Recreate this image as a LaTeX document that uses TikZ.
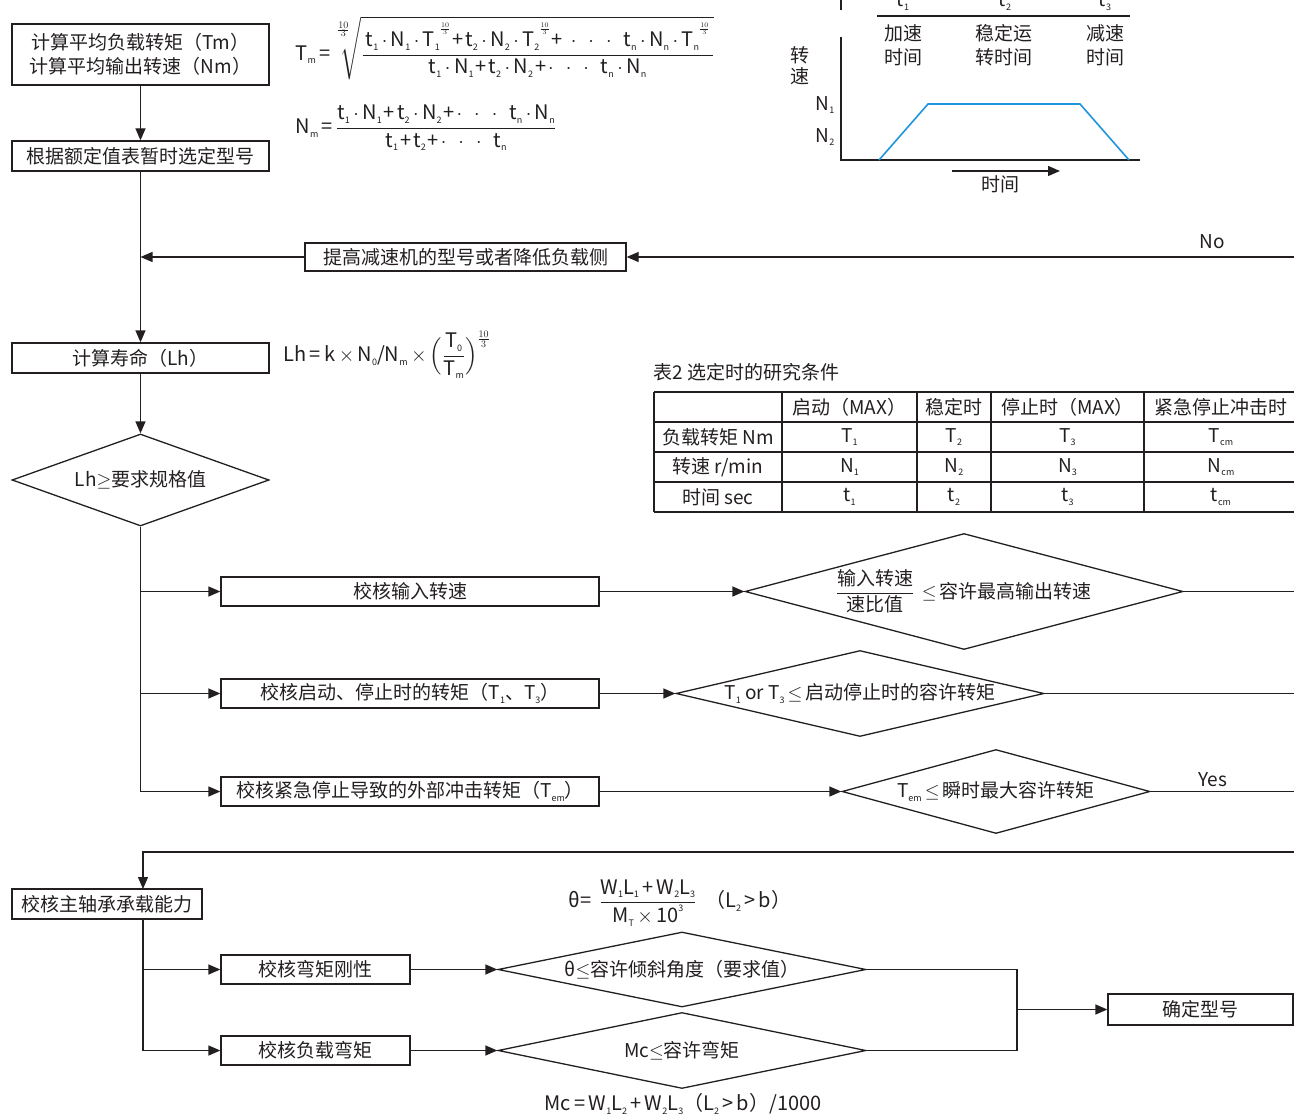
\RequirePackage{fix-cm}
\documentclass[tikz,border=0pt]{standalone}
\usepackage{amsmath}
\usepackage{fontspec}
\setmainfont{Noto Sans CJK SC}
\usetikzlibrary{arrows.meta,shapes.geometric}
\definecolor{ink}{RGB}{35,31,32}
\definecolor{curve}{RGB}{30,150,220}
\newcommand{\sbx}[1]{\raisebox{-0.35ex}{\fontsize{9}{9}\selectfont #1}}
\newcommand{\tenth}{\raisebox{1.4ex}{\fontsize{10}{10}\selectfont$\frac{10}{3}$}}
\newcommand{\cd}{\hspace{3.5pt}$\cdot$\hspace{3.5pt}}
\newcommand{\pl}{\hspace{2pt}+\hspace{2pt}}
\newcommand{\dts}{$\cdot$\hspace{12pt}$\cdot$\hspace{12pt}$\cdot$\hspace{12pt}}
\newcommand{\lesym}{\,$\leq$\,}
\newcommand{\gesym}{\,$\geq$\,}
\newcommand{\timesym}{\,$\times$\,}
\begin{document}
\begin{tikzpicture}[x=1pt,y=-1pt,
  font=\fontsize{19}{24}\selectfont, color=ink, draw=ink, line width=1.3pt,
  box/.style={draw, inner sep=0pt, align=center},
  dia/.style={draw, diamond, inner sep=0pt, aspect=1},
  lbl/.style={inner sep=1pt, align=center},
  fml/.style={inner sep=1pt, align=center, font=\fontsize{20}{24}\selectfont},
  arr/.style={-{Triangle[length=12pt,width=10pt]}},
  cell/.style={inner sep=0pt}]
\useasboundingbox (0,0) rectangle (1294,1118);
\clip (0,0) rectangle (1294,1118);

% ---------- left column ----------
\node[box, minimum width=257pt, minimum height=61pt] (b1) at (140.5,54.5) {计算平均负载转矩（Tm）\\计算平均输出转速（Nm）};
\node[box, minimum width=257pt, minimum height=30pt] (b2) at (140.5,156) {根据额定值表暂时选定型号};
\node[box, minimum width=321pt, minimum height=28pt] (raise) at (465.5,257) {提高减速机的型号或者降低负载侧};
\node[box, minimum width=257pt, minimum height=30pt] (b3) at (140.5,358) {计算寿命（Lh）};
\node[dia, minimum width=257pt, minimum height=92pt] (dLh) at (140.5,480) {};
\node[lbl] (tLh) at (dLh.center) {Lh$\geq$要求规格值};

\node[box, minimum width=378pt, minimum height=29pt] (inspeed) at (410,591.5) {校核输入转速};
\node[box, minimum width=378pt, minimum height=29pt] (torque) at (410,693.5) {校核启动、停止时的转矩（T\sbx{1}、T\sbx{3}）};
\node[box, minimum width=378pt, minimum height=29pt] (impact) at (410,791.5) {校核紧急停止导致的外部冲击转矩（T\sbx{em}）};

\node[dia, minimum width=438pt, minimum height=116pt] (d1) at (964,591.5) {};
\node[lbl] (t1d) at (d1.center) {$\displaystyle\frac{\hbox{输入转速}}{\hbox{速比值}}$ \lesym 容许最高输出转速};
\node[dia, minimum width=368pt, minimum height=86pt] (d2) at (860,693.5) {};
\node[lbl] (t2d) at (d2.center) {T\sbx{1} or T\sbx{3}\lesym 启动停止时的容许转矩};
\node[dia, minimum width=308pt, minimum height=84pt] (d3) at (996,791.5) {};
\node[lbl] (t3d) at (d3.center) {T\sbx{em}\lesym 瞬时最大容许转矩};

\node[box, minimum width=190pt, minimum height=30pt] (bearing) at (107,904) {校核主轴承承载能力};
\node[box, minimum width=189pt, minimum height=29pt] (rigid) at (315.5,969.5) {校核弯矩刚性};
\node[box, minimum width=189pt, minimum height=29pt] (loadm) at (315.5,1050.5) {校核负载弯矩};
\node[dia, minimum width=368pt, minimum height=75pt] (d4) at (682,969.5) {};
\node[lbl] (t4d) at (d4.center) {θ$\leq$容许倾斜角度（要求值）};
\node[dia, minimum width=368pt, minimum height=76pt] (d5) at (682,1050.5) {};
\node[lbl] (t5d) at (d5.center) {Mc$\leq$容许弯矩};
\node[box, minimum width=185pt, minimum height=31pt] (final) at (1200.5,1009.5) {确定型号};

% ---------- formulas ----------
\node[fml, anchor=west] (fTm) at (294,48) {T\sbx{m}\,=\,$\displaystyle\sqrt[\leftroot{2}\uproot{12}\frac{10}{3}]{\frac{\hbox{\,t\sbx{1}\cd N\sbx{1}\cd T\sbx{1}\tenth\pl t\sbx{2}\cd N\sbx{2}\cd T\sbx{2}\tenth\pl\hspace{6pt}\dts t\sbx{n}\cd N\sbx{n}\cd T\sbx{n}\tenth\,}}{\hbox{t\sbx{1}\cd N\sbx{1}\pl t\sbx{2}\cd N\sbx{2}\pl\dts t\sbx{n}\cd N\sbx{n}}}}$};
\node[fml, anchor=west] (fNm) at (294,128) {N\sbx{m}\,=\,$\displaystyle\frac{\hbox{t\sbx{1}\cd N\sbx{1}\pl t\sbx{2}\cd N\sbx{2}\pl\dts t\sbx{n}\cd N\sbx{n}}}{\hbox{t\sbx{1}\pl t\sbx{2}\pl\dts t\sbx{n}}}$};
\node[fml, anchor=west] (fLh) at (282,355) {Lh\,=\,k\timesym N\sbx{0}/N\sbx{m}\timesym $\displaystyle\Bigl(\frac{\hbox{T\sbx{0}}}{\hbox{T\sbx{m}}}\Bigr)^{\frac{10}{3}}$};
\node[fml] (fth) at (680,903) {θ=\, $\displaystyle\frac{\hbox{W\sbx{1}L\sbx{1}\,+\,W\sbx{2}L\sbx{3}}}{\hbox{M\sbx{T}\timesym 10\raisebox{1ex}{\fontsize{9}{9}\selectfont 3}}}$ \ （L\sbx{2}\,>\,b）};
\node[fml] (fMc) at (683,1104) {Mc\,=\,W\sbx{1}L\sbx{2}\,+\,W\sbx{2}L\sbx{3}（L\sbx{2}\,>\,b）/1000};

% ---------- labels ----------
\node[lbl] (no) at (1212,242) {No};
\node[lbl] (yes) at (1213,780) {Yes};

% ---------- connectors ----------
\coordinate (jR) at (140.5,257);
\coordinate (eNo) at (1300,257);
\coordinate (e1) at (1300,591.5);
\coordinate (e2) at (1300,693.5);
\coordinate (e3) at (1300,791.5);
\coordinate (eBack) at (1300,852);
\coordinate (bTop) at (143,889);
\coordinate (bBot) at (143,919);
\coordinate (mj) at (1017,1009.5);

\draw[arr] (b1) -- (b2);
\draw[arr] (b2) -- (b3);
\draw[arr] (eNo) -- (raise.east);
\draw[arr] (raise.west) -- (jR);
\draw[arr] (b3) -- (dLh.north);
\draw[arr] (dLh.south) |- (impact.west);
\draw[arr] (dLh.south |- inspeed.west) -- (inspeed.west);
\draw[arr] (dLh.south |- torque.west) -- (torque.west);
\draw[arr] (inspeed.east) -- (d1.west);
\draw[arr] (torque.east) -- (d2.west);
\draw[arr] (impact.east) -- (d3.west);
\draw (d1.east) -- (e1);
\draw (d2.east) -- (e2);
\draw (d3.east) -- (e3);
\draw[arr] (eBack) -| (bTop);
\draw[arr] (bBot) |- (loadm.west);
\draw[arr] (bBot |- rigid.west) -- (rigid.west);
\draw[arr] (rigid.east) -- (d4.west);
\draw[arr] (loadm.east) -- (d5.west);
\draw (d4.east) -| (mj);
\draw (d5.east) -| (mj);
\draw[arr] (mj) -- (final.west);

% ---------- speed/time graph ----------
\draw (841,0) -- (841,10);
\draw (877,16) -- (1130,16);
\node[lbl, anchor=base] (gt1) at (903,7) {t\sbx{1}};
\node[lbl, anchor=base] (gt2) at (1005,7) {t\sbx{2}};
\node[lbl, anchor=base] (gt3) at (1105,7) {t\sbx{3}};
\node[lbl] (ga) at (903,45) {加速\\时间};
\node[lbl] (gb) at (1004,45) {稳定运\\转时间};
\node[lbl] (gc) at (1105,45) {减速\\时间};
\node[lbl, font=\fontsize{19}{21}\selectfont] (gy) at (800,66) {转\\速};
\node[lbl] (gn1) at (825,105) {N\sbx{1}};
\node[lbl] (gn2) at (825,137) {N\sbx{2}};
\draw (841,37) -- (841,160) -- (1140,160);
\draw[curve, line width=1.6pt] (879,160) -- (928,104) -- (1080,104) -- (1129,160);
\coordinate (ta) at (952,171);
\coordinate (tb) at (1060,171);
\draw[arr] (ta) -- (tb);
\node[lbl] (gx) at (1000,184) {时间};

% ---------- table ----------
\node[lbl, anchor=west] (ttl) at (652,372) {表2 选定时的研究条件};
\foreach \yy in {392,422,452,482,512} \draw (654,\yy) -- (1300,\yy);
\foreach \xx in {654,782,917,991,1144} \draw (\xx,392) -- (\xx,512);
\node[cell] (h1) at (849.5,407) {启动（MAX）};
\node[cell] (h2) at (954,407) {稳定时};
\node[cell] (h3) at (1067.5,407) {停止时（MAX）};
\node[cell] (h4) at (1221,407) {紧急停止冲击时};
\node[cell] (r1) at (718,437) {负载转矩 Nm};
\node[cell] (r2) at (718,467) {转速 r/min};
\node[cell] (r3) at (718,497) {时间 sec};
\node[cell] (c11) at (849.5,437) {T\sbx{1}};
\node[cell] (c12) at (954,437) {T\sbx{2}};
\node[cell] (c13) at (1067.5,437) {T\sbx{3}};
\node[cell] (c14) at (1221,437) {T\sbx{cm}};
\node[cell] (c21) at (849.5,467) {N\sbx{1}};
\node[cell] (c22) at (954,467) {N\sbx{2}};
\node[cell] (c23) at (1067.5,467) {N\sbx{3}};
\node[cell] (c24) at (1221,467) {N\sbx{cm}};
\node[cell] (c31) at (849.5,497) {t\sbx{1}};
\node[cell] (c32) at (954,497) {t\sbx{2}};
\node[cell] (c33) at (1067.5,497) {t\sbx{3}};
\node[cell] (c34) at (1221,497) {t\sbx{cm}};
\end{tikzpicture}
\end{document}
